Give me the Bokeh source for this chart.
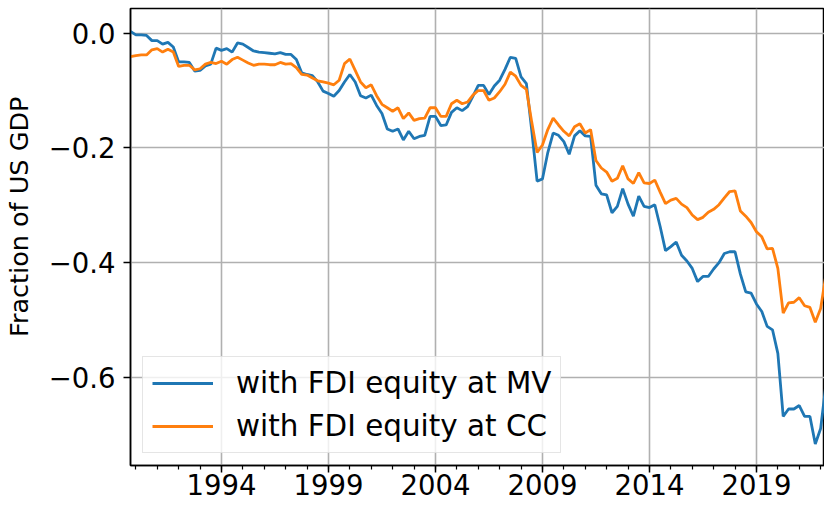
import pandas as pd
from bokeh.plotting import figure
from bokeh.models import (Range1d, FixedTicker, CustomJSTickFormatter,
                          Legend, LegendItem, ColumnDataSource)
from bokeh.embed import file_html
from bokeh.resources import INLINE

# ---------------- data (quarterly, 1989Q4 .. 2022Q2) ----------------
first_quarter = "1989Q4"

nfa_mv = [
    0.003, -0.003, -0.003, -0.004, -0.013, -0.013, -0.019, -0.016, -0.024, -0.050,
    -0.050, -0.051, -0.066, -0.065, -0.057, -0.054, -0.026, -0.030, -0.027, -0.033,
    -0.017, -0.019, -0.025, -0.031, -0.033, -0.034, -0.035, -0.036, -0.034, -0.037,
    -0.037, -0.046, -0.069, -0.072, -0.074, -0.085, -0.101, -0.105, -0.110, -0.100,
    -0.085, -0.072, -0.085, -0.109, -0.113, -0.108, -0.126, -0.140, -0.167, -0.171,
    -0.167, -0.186, -0.171, -0.184, -0.180, -0.178, -0.145, -0.145, -0.161, -0.160,
    -0.138, -0.130, -0.135, -0.128, -0.110, -0.091, -0.091, -0.107, -0.092, -0.082,
    -0.063, -0.042, -0.044, -0.076, -0.088, -0.170, -0.258, -0.254, -0.208, -0.174,
    -0.178, -0.189, -0.211, -0.179, -0.170, -0.179, -0.180, -0.265, -0.280, -0.282,
    -0.313, -0.302, -0.271, -0.298, -0.319, -0.284, -0.302, -0.304, -0.299, -0.337,
    -0.379, -0.372, -0.364, -0.387, -0.397, -0.410, -0.433, -0.424, -0.424, -0.411,
    -0.400, -0.384, -0.381, -0.381, -0.420, -0.451, -0.453, -0.472, -0.485, -0.511,
    -0.517, -0.558, -0.668, -0.655, -0.655, -0.649, -0.668, -0.668, -0.716, -0.689,
    -0.611,
]

nfa_cc = [
    -0.041, -0.039, -0.038, -0.038, -0.029, -0.027, -0.033, -0.028, -0.033, -0.058,
    -0.056, -0.056, -0.064, -0.062, -0.054, -0.051, -0.053, -0.049, -0.054, -0.046,
    -0.042, -0.047, -0.052, -0.056, -0.054, -0.054, -0.055, -0.055, -0.051, -0.054,
    -0.053, -0.060, -0.072, -0.073, -0.078, -0.083, -0.085, -0.087, -0.090, -0.082,
    -0.053, -0.045, -0.065, -0.085, -0.095, -0.090, -0.109, -0.124, -0.130, -0.136,
    -0.130, -0.149, -0.139, -0.152, -0.149, -0.148, -0.130, -0.130, -0.145, -0.145,
    -0.123, -0.117, -0.123, -0.120, -0.108, -0.100, -0.100, -0.117, -0.113, -0.102,
    -0.089, -0.068, -0.075, -0.091, -0.098, -0.155, -0.208, -0.195, -0.168, -0.148,
    -0.160, -0.171, -0.179, -0.163, -0.158, -0.174, -0.168, -0.222, -0.235, -0.242,
    -0.258, -0.253, -0.231, -0.254, -0.262, -0.243, -0.261, -0.262, -0.256, -0.277,
    -0.297, -0.291, -0.288, -0.298, -0.304, -0.317, -0.325, -0.321, -0.312, -0.307,
    -0.299, -0.287, -0.276, -0.275, -0.310, -0.319, -0.330, -0.346, -0.355, -0.376,
    -0.375, -0.410, -0.488, -0.470, -0.469, -0.461, -0.475, -0.478, -0.504, -0.480,
    -0.420,
]

series_labels = ["with FDI equity at MV", "with FDI equity at CC"]
x_tick_years = [1994, 1999, 2004, 2009, 2014, 2019]
x_minor_years = list(range(1990, 2023))
y_ticks = [0.0, -0.2, -0.4, -0.6]
y_axis_title = "Fraction of US GDP"

quarters = pd.period_range(first_quarter, periods=len(nfa_mv), freq="Q")
years = [q.year + (q.quarter - 1) / 4 for q in quarters]
src = ColumnDataSource(dict(t=years, mv=nfa_mv, cc=nfa_cc))

FONT = "DejaVu Sans"
BLUE = "#1f77b4"
ORANGE = "#ff7f0e"

p = figure(width=824, height=511,
           x_range=Range1d(years[0], 2022.18),
           y_range=Range1d(-0.7535, 0.0430),
           min_border_left=128, min_border_right=0,
           min_border_top=8, min_border_bottom=46,
           toolbar_location=None, output_backend="svg")

p.outline_line_color = "black"
p.outline_line_width = 1.5
p.background_fill_color = "white"
p.border_fill_color = "white"

# axes
xa = p.xaxis[0]
xa.ticker = FixedTicker(ticks=x_tick_years, minor_ticks=x_minor_years)
ya = p.yaxis[0]
ya.ticker = FixedTicker(ticks=y_ticks, minor_ticks=[])
ya.formatter = CustomJSTickFormatter(code="""
    if (Math.abs(tick) < 1e-9) { return "0.0"; }
    return tick.toFixed(1).replace("-", "\u2212");
""")
for ax in (xa, ya):
    ax.axis_line_color = "black"
    ax.axis_line_width = 1.5
    ax.major_tick_line_color = "black"
    ax.major_tick_line_width = 1.5
    ax.major_tick_out = 7
    ax.major_tick_in = 0
    ax.major_label_text_font = FONT
    ax.major_label_text_font_size = "27.5px"
    ax.major_label_text_color = "black"
xa.minor_tick_line_color = "black"
xa.minor_tick_line_width = 1.2
xa.minor_tick_out = 4
xa.minor_tick_in = 0
xa.major_label_standoff = 1
ya.minor_tick_line_color = None
ya.major_label_standoff = 8

# y-axis title; leading no-break spaces lift the visible words so that they
# sit where the reference shows them (a little above the frame's middle)
ya.axis_label = "\u00a0" * 5 + y_axis_title
ya.axis_label_text_font = FONT
ya.axis_label_text_font_size = "25.5px"
ya.axis_label_text_font_style = "normal"
ya.axis_label_text_color = "black"
ya.axis_label_standoff = 12

# grid
p.xgrid.ticker = FixedTicker(ticks=x_tick_years)
p.ygrid.ticker = FixedTicker(ticks=y_ticks)
for g in (p.xgrid[0], p.ygrid[0]):
    g.grid_line_color = "#b0b0b0"
    g.grid_line_width = 1.6

# lines
r_mv = p.line("t", "mv", source=src, line_color=BLUE, line_width=2.8)
r_cc = p.line("t", "cc", source=src, line_color=ORANGE, line_width=2.8)

legend = Legend(items=[LegendItem(label=series_labels[0], renderers=[r_mv]),
                       LegendItem(label=series_labels[1], renderers=[r_cc])],
                location="bottom_left", margin=12, padding=9, spacing=9,
                glyph_width=61, glyph_height=34, label_height=34,
                label_standoff=23,
                label_text_font=FONT, label_text_font_size="29.4px",
                label_text_color="black",
                border_line_color="#cccccc", border_line_width=1.2,
                background_fill_color="white", background_fill_alpha=0.8)
p.add_layout(legend, "center")

open("out.html", "w").write(file_html(p, INLINE))
